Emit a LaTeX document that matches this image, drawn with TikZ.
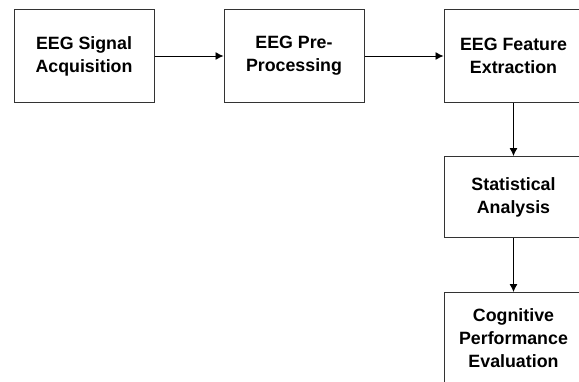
\documentclass[tikz,border=0pt]{standalone}
\usepackage{fontspec}
\setmainfont{Liberation Sans}
\usetikzlibrary{arrows.meta, positioning}
\definecolor{BoxLine}{HTML}{333333}
\tikzset{
  stagebox/.style={draw=BoxLine, line width=1pt, fill=white, align=center, minimum width=140pt, minimum height=93pt, inner sep=4pt, font=\fontsize{17.8}{23}\selectfont\bfseries},
  arrow/.style={-{Latex[length=8pt, width=8pt]}, line width=0.9pt, draw=black}
}
\begin{document}
\begin{tikzpicture}
\useasboundingbox (0,0) rectangle (579pt,-381pt);
\node[stagebox] (acquisition) at (84pt,-56pt) {EEG Signal\\Acquisition};
\node[stagebox, right=69pt of acquisition] (preprocessing) {EEG Pre-\\Processing};
\node[stagebox, right=79pt of preprocessing, minimum width=139pt] (extraction) {EEG Feature\\Extraction};
\node[stagebox, below=53pt of extraction, minimum width=139pt, minimum height=81pt] (statistics) {Statistical\\Analysis};
\node[stagebox, below=54pt of statistics, minimum width=139pt, minimum height=92pt] (evaluation) {Cognitive\\Performance\\Evaluation};
\draw[arrow] (acquisition) -- (preprocessing);
\draw[arrow] (preprocessing) -- (extraction);
\draw[arrow] (extraction) -- (statistics);
\draw[arrow] (statistics) -- (evaluation);
\end{tikzpicture}
\end{document}
